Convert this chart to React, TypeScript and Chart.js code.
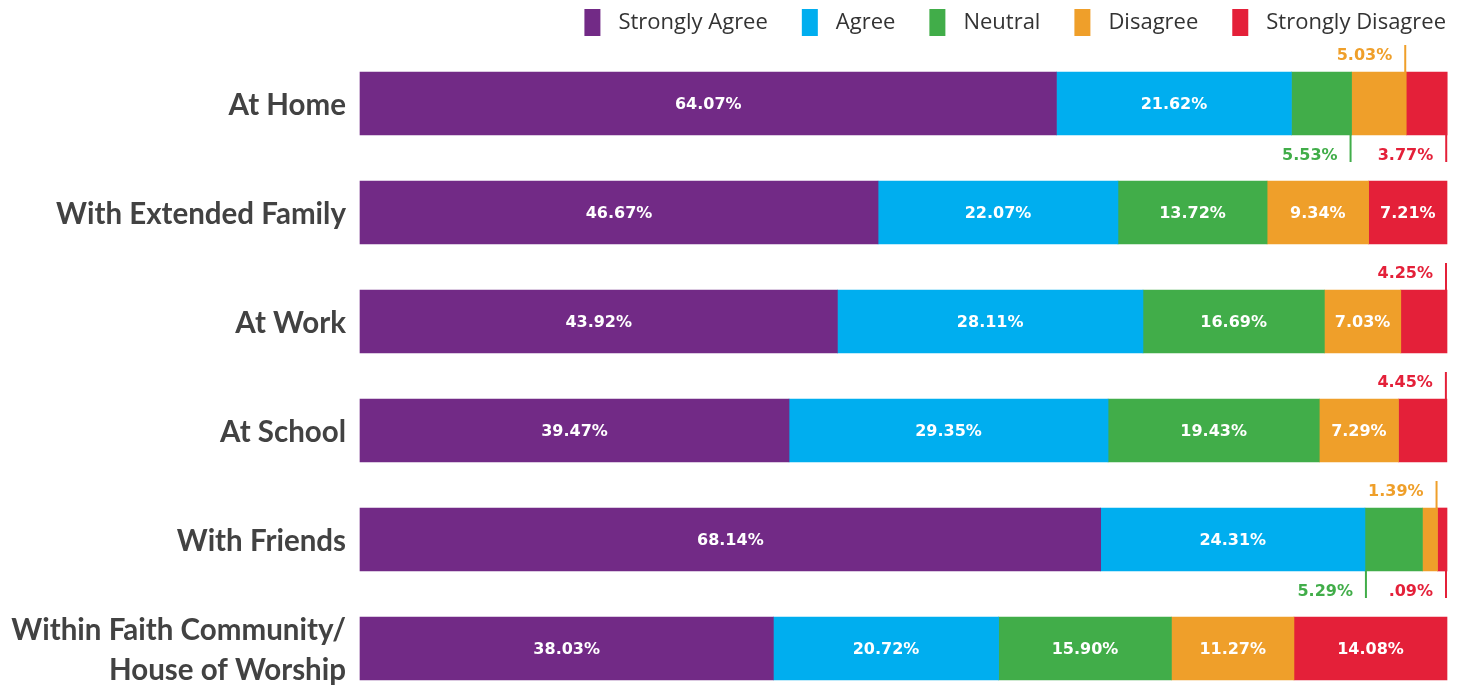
import React, { useEffect, useRef } from "react";
import { Chart, registerables } from "chart.js";

Chart.register(...registerables);

const categories: (string | string[])[] = [
  "At Home",
  "With Extended Family",
  "At Work",
  "At School",
  "With Friends",
  ["Within Faith Community/", "House of Worship"],
];

const seriesNames = ["Strongly Agree", "Agree", "Neutral", "Disagree", "Strongly Disagree"];
const seriesColors = ["#722A86", "#00AEEF", "#41AD49", "#EF9F2A", "#E42039"];

const stronglyAgree = [64.07, 47.66, 43.92, 39.47, 68.14, 38.03];
const agree = [21.62, 22.07, 28.11, 29.35, 24.31, 20.72];
const neutral = [5.53, 13.72, 16.69, 19.43, 5.29, 15.9];
const disagree = [5.03, 9.34, 7.03, 7.29, 1.39, 11.27];
const stronglyDisagree = [3.77, 7.21, 4.25, 4.45, 0.87, 14.08];

const stronglyAgreeLabels = ["64.07%", "46.67%", "43.92%", "39.47%", "68.14%", "38.03%"];
const agreeLabels = ["21.62%", "22.07%", "28.11%", "29.35%", "24.31%", "20.72%"];
const neutralLabels = ["5.53%", "13.72%", "16.69%", "19.43%", "5.29%", "15.90%"];
const disagreeLabels = ["5.03%", "9.34%", "7.03%", "7.29%", "1.39%", "11.27%"];
const stronglyDisagreeLabels = ["3.77%", "7.21%", "4.25%", "4.45%", ".09%", "14.08%"];

// callouts for small segments: row, series, side, edge of leader line
const callouts = [
  { row: 0, series: 2, side: "below", edge: "end" },
  { row: 0, series: 3, side: "above", edge: "end" },
  { row: 0, series: 4, side: "below", edge: "end" },
  { row: 2, series: 4, side: "above", edge: "end" },
  { row: 3, series: 4, side: "above", edge: "end" },
  { row: 4, series: 2, side: "below", edge: "start" },
  { row: 4, series: 3, side: "above", edge: "end" },
  { row: 4, series: 4, side: "below", edge: "end" },
];

const seriesValues = [stronglyAgree, agree, neutral, disagree, stronglyDisagree];
const seriesLabels = [stronglyAgreeLabels, agreeLabels, neutralLabels, disagreeLabels, stronglyDisagreeLabels];

const VALUE_FONT = "bold 16px 'DejaVu Sans'";
const LEGEND_FONT = "22px 'Open Sans'";

const segmentLabelPlugin = {
  id: "segmentLabels",
  afterDatasetsDraw(chart: any) {
    const ctx = chart.ctx as CanvasRenderingContext2D;
    ctx.save();
    ctx.font = VALUE_FONT;
    ctx.textBaseline = "middle";
    chart.data.datasets.forEach((ds: any, si: number) => {
      const meta = chart.getDatasetMeta(si);
      meta.data.forEach((el: any, ri: number) => {
        const { x, y, base, height } = el.getProps(["x", "y", "base", "height"], true);
        const left = Math.min(x, base);
        const right = Math.max(x, base);
        const top = y - height / 2;
        const bottom = y + height / 2;
        const text = seriesLabels[si][ri];
        const c = callouts.find((k) => k.row === ri && k.series === si);
        if (!c) {
          ctx.fillStyle = "#ffffff";
          ctx.textAlign = "center";
          ctx.fillText(text, (left + right) / 2, y + 1);
        } else {
          const color = seriesColors[si];
          const lx = c.edge === "end" ? right - 1 : left + 1;
          ctx.strokeStyle = color;
          ctx.lineWidth = 2;
          ctx.beginPath();
          if (c.side === "above") {
            ctx.moveTo(lx, top);
            ctx.lineTo(lx, top - 27);
          } else {
            ctx.moveTo(lx, bottom);
            ctx.lineTo(lx, bottom + 27);
          }
          ctx.stroke();
          ctx.fillStyle = color;
          ctx.textAlign = "right";
          const ty = c.side === "above" ? top - 16 : bottom + 21;
          ctx.fillText(text, lx - 13, ty);
        }
      });
    });
    ctx.restore();
  },
};

const legendPlugin = {
  id: "customLegend",
  afterDraw(chart: any) {
    const ctx = chart.ctx as CanvasRenderingContext2D;
    ctx.save();
    ctx.font = LEGEND_FONT;
    ctx.textBaseline = "middle";
    ctx.textAlign = "left";
    const boxW = 16;
    const boxH = 27;
    const boxGap = 18;
    const itemGap = 34;
    let xEnd = 1446;
    const items = chart.data.datasets.map((d: any, i: number) => ({
      label: d.label,
      color: seriesColors[i],
    }));
    const positions: number[] = [];
    for (let i = items.length - 1; i >= 0; i--) {
      const w = ctx.measureText(items[i].label).width;
      const start = xEnd - w - boxGap - boxW;
      positions[i] = start;
      xEnd = start - itemGap;
    }
    items.forEach((it: any, i: number) => {
      const bx = positions[i];
      ctx.fillStyle = it.color;
      ctx.fillRect(bx, 9, boxW, boxH);
      ctx.fillStyle = "#333333";
      ctx.fillText(it.label, bx + boxW + boxGap, 23);
    });
    ctx.restore();
  },
};

export default function App() {
  const canvasRef = useRef<HTMLCanvasElement | null>(null);

  useEffect(() => {
    const canvas = canvasRef.current;
    if (!canvas) return;
    const chart = new Chart(canvas, {
      type: "bar",
      data: {
        labels: categories as any,
        datasets: seriesNames.map((name, i) => ({
          label: name,
          data: seriesValues[i],
          backgroundColor: seriesColors[i],
          borderWidth: 0,
          barThickness: 63,
          clip: false as any,
        })),
      },
      options: {
        indexAxis: "y",
        animation: false,
        responsive: true,
        maintainAspectRatio: false,
        layout: { padding: { top: 103.5, bottom: 39.5, left: 0, right: 16 } },
        plugins: {
          legend: { display: false },
          tooltip: { enabled: false },
        },
        scales: {
          x: {
            stacked: true,
            min: 0,
            max: 100,
            display: false,
          },
          y: {
            stacked: true,
            offset: false,
            grid: { display: false, drawTicks: false },
            border: { display: false },
            ticks: {
              color: "#424242",
              padding: 14,
              labelOffset: 2,
              font: { family: "Lato", size: 29.5, weight: "bold", lineHeight: 1.37 },
            },
            afterFit: (s: any) => {
              s.width = 360;
            },
          },
        },
      },
      plugins: [segmentLabelPlugin, legendPlugin],
    });
    return () => chart.destroy();
  }, []);

  return (
    <div style={{ position: "fixed", left: 0, top: 0, width: 1463, height: 688, background: "#ffffff" }}>
      <canvas ref={canvasRef} />
    </div>
  );
}
